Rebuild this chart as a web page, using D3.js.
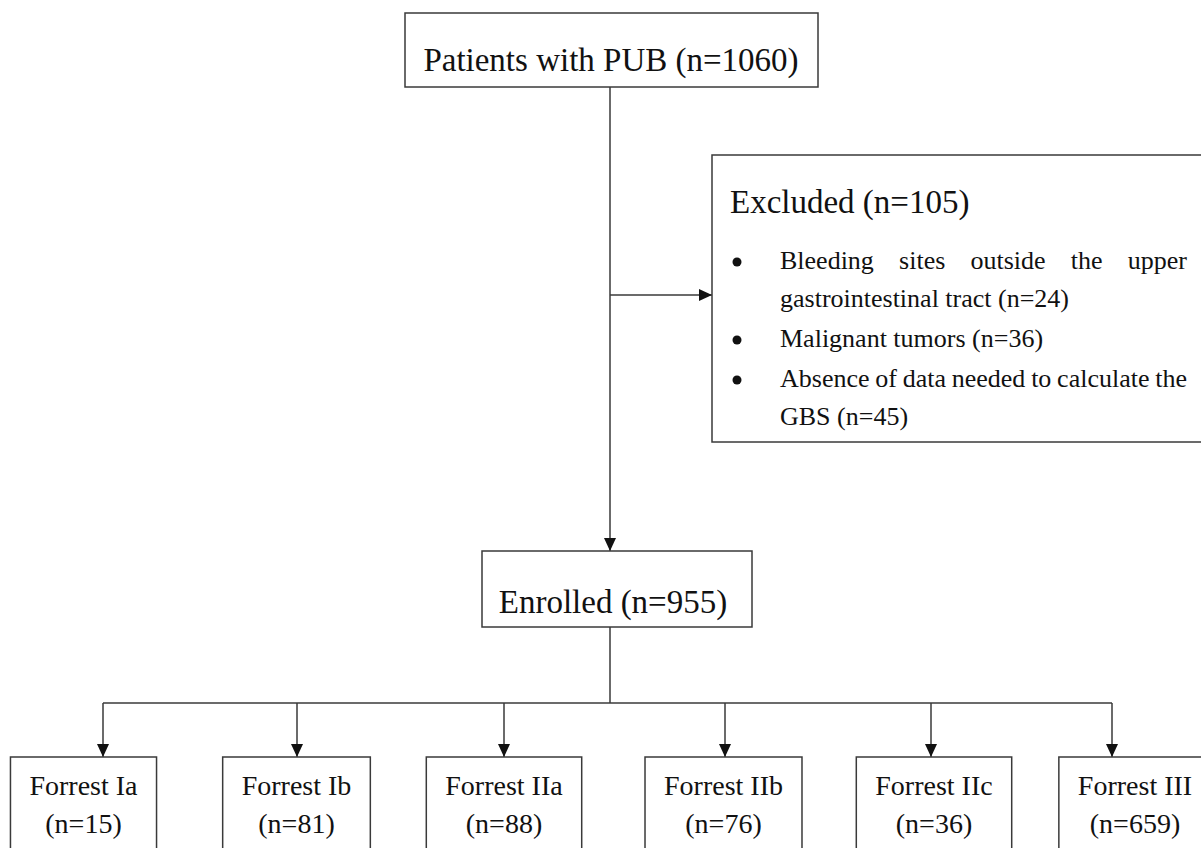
<!DOCTYPE html>
<html>
<head>
<meta charset="utf-8">
<script src="https://cdn.jsdelivr.net/npm/d3@7"></script>
<style>
    body { margin: 0; background: #fff; }
    text { font-family: "Liberation Serif", "Times New Roman", serif; fill: #111; }
</style>
</head>
<body>
<svg id="chart"></svg>
<script>
// flow counts
const totalLabel = 'Patients with PUB';
const totalN = 1060;
const excludedLabel = 'Excluded';
const excludedN = 105;
const reasons = ['Bleeding sites outside the upper gastrointestinal tract', 'Malignant tumors', 'Absence of data needed to calculate the GBS'];
const reasonN = [24, 36, 45];
const enrolledLabel = 'Enrolled';
const enrolledN = 955;
const stages = ['Forrest Ia', 'Forrest Ib', 'Forrest IIa', 'Forrest IIb', 'Forrest IIc', 'Forrest III'];
const stageN = [15, 81, 88, 76, 36, 659];

const width = 1201, height = 848;
const lineColor = '#3a3a3a';

const svg = d3.select('#chart')
    .attr('width', width)
    .attr('height', height);

svg.append('defs').append('marker')
    .attr('id', 'head')
    .attr('viewBox', '0 0 13 12')
    .attr('refX', 13)
    .attr('refY', 6)
    .attr('markerWidth', 13)
    .attr('markerHeight', 12)
    .attr('markerUnits', 'userSpaceOnUse')
    .attr('orient', 'auto')
    .append('path')
    .attr('d', 'M0,0 L13,6 L0,12 Z')
    .attr('fill', '#111');

// layout scales for the bottom row
const arrowX = d3.scaleOrdinal().domain(stages).range([103, 297, 504, 725, 931, 1112]);
const boxX = d3.scaleOrdinal().domain(stages).range([83.5, 296.5, 504, 723.5, 934, 1135]);

const cx = 610;

function box(x, y, w, h) {
    svg.append('rect')
        .attr('x', x).attr('y', y)
        .attr('width', w).attr('height', h)
        .attr('fill', '#fff')
        .attr('stroke', lineColor)
        .attr('stroke-width', 1.5);
}

function line(pts, arrow) {
    const p = svg.append('path')
        .attr('d', d3.line()(pts))
        .attr('fill', 'none')
        .attr('stroke', lineColor)
        .attr('stroke-width', 1.5);
    if (arrow) p.attr('marker-end', 'url(#head)');
}

// top box
box(405, 13, 413, 74);
svg.append('text')
    .attr('x', 611).attr('y', 71)
    .attr('text-anchor', 'middle')
    .style('font-size', '33px')
    .text(`${totalLabel} (n=${totalN})`);

// trunk to enrolled + branch to excluded
line([[cx, 87], [cx, 551]], true);
line([[cx, 295], [712, 295]], true);

// excluded box
box(712, 155, 520, 287);
svg.append('text')
    .attr('x', 730).attr('y', 213)
    .style('font-size', '33px')
    .text(`${excludedLabel} (n=${excludedN})`);

const textLeft = 780, textRight = 1187, lh = 38;
let baseY = 269;
const measure = svg.append('text').style('font-size', '26px');
function wordWidth(s) {
    measure.text(s);
    return measure.node().getComputedTextLength();
}

reasons.forEach((r, i) => {
    const words = (r + ` (n=${reasonN[i]})`).split(' ');
    const lines = [];
    let cur = [];
    words.forEach(w => {
        const trial = cur.concat([w]).join(' ');
        if (cur.length && wordWidth(trial) > textRight - textLeft + 6) {
            lines.push(cur);
            cur = [w];
        } else cur.push(w);
    });
    lines.push(cur);

    svg.append('circle')
        .attr('cx', 737).attr('cy', baseY - 7)
        .attr('r', 4.5)
        .attr('fill', '#111');

    lines.forEach((ws, li) => {
        const y = baseY + li * lh;
        const last = li === lines.length - 1;
        if (last) {
            svg.append('text')
                .attr('x', textLeft).attr('y', y)
                .style('font-size', '26px')
                .text(ws.join(' '));
        } else {
            const widths = ws.map(wordWidth);
            const gap = (textRight - textLeft - d3.sum(widths)) / (ws.length - 1);
            let x = textLeft;
            ws.forEach((w, k) => {
                svg.append('text')
                    .attr('x', x).attr('y', y)
                    .style('font-size', '26px')
                    .text(w);
                x += widths[k] + gap;
            });
        }
    });
    baseY += lines.length * lh + 2;
});
measure.remove();

// enrolled box
box(482, 551, 270, 76);
svg.append('text')
    .attr('x', 613).attr('y', 613)
    .attr('text-anchor', 'middle')
    .style('font-size', '33px')
    .text(`${enrolledLabel} (n=${enrolledN})`);

// split line
const splitY = 703;
line([[cx, 627], [cx, splitY]], false);
line([[arrowX(stages[0]), splitY], [arrowX(stages[stages.length - 1]), splitY]], false);

const boxTop = 757;
stages.forEach((s, i) => {
    line([[arrowX(s), splitY], [arrowX(s), boxTop]], true);
});

const stageG = svg.selectAll('g.stage')
    .data(stages)
    .enter()
    .append('g')
    .attr('class', 'stage');

stageG.each(function (s, i) {
    const g = d3.select(this);
    const t1 = g.append('text')
        .attr('x', boxX(s)).attr('y', 795)
        .attr('text-anchor', 'middle')
        .style('font-size', '28px')
        .text(s);
    g.append('text')
        .attr('x', boxX(s)).attr('y', 833)
        .attr('text-anchor', 'middle')
        .style('font-size', '28px')
        .text(`(n=${stageN[i]})`);
    const w = t1.node().getComputedTextLength() + 38;
    g.insert('rect', 'text')
        .attr('x', boxX(s) - w / 2).attr('y', boxTop)
        .attr('width', w).attr('height', 120)
        .attr('fill', '#fff')
        .attr('stroke', lineColor)
        .attr('stroke-width', 1.5);
});
</script>
</body>
</html>
